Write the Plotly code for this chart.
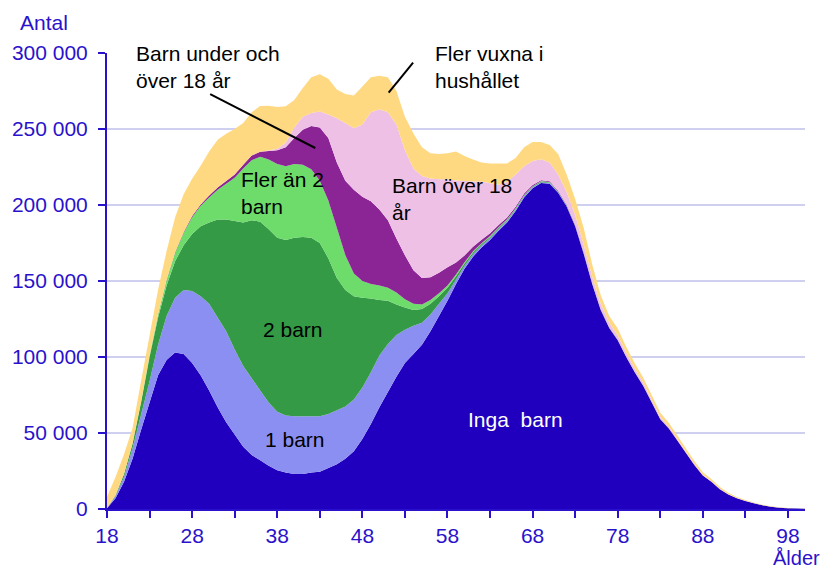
import plotly.graph_objects as go

ages = list(range(18, 101))

# Inga barn (no children)
inga_barn = [
    500, 7000, 18000, 33000, 52000, 70000, 88000, 98000, 103000, 102000,          # 18-27
    96000, 88000, 78000, 67000, 57000, 49000, 41000, 35500, 32000, 28500,         # 28-37
    25500, 24000, 23000, 23000, 24000, 24500, 27000, 29500, 33000, 38000,         # 38-47
    46000, 56000, 67000, 77000, 87000, 96000, 102000, 108000, 117000, 127000,     # 48-57
    137000, 148000, 158000, 166000, 172000, 177000, 183000, 188500, 196000, 205000,  # 58-67
    211000, 214500, 214000, 208000, 199000, 186000, 168000, 148000, 131000, 119000,  # 68-77
    111000, 100000, 90000, 81000, 70000, 59000, 53000, 45000, 37000, 29000,       # 78-87
    22000, 18000, 13000, 9500, 7000, 5200, 3800, 2400, 1500, 900,                 # 88-97
    500, 300, 200,                                                                # 98-100
]

ett_barn = [
    100, 1500, 3000, 7000, 10000, 14000, 20000, 29000, 36000, 42000,
    47500, 52000, 57000, 59000, 60000, 56000, 53000, 50500, 46000, 41500,
    38500, 37500, 38000, 38000, 37000, 36500, 35500, 35500, 34500, 34000,
    34000, 34000, 34000, 31500, 27500, 22000, 18500, 14500, 11000, 8000,
    5000, 3000, 2000, 1600, 1300, 1100, 1000, 900, 800, 700,
    600, 500, 450, 400, 350, 300, 250, 200, 170, 150,
    130, 110, 100, 90, 80, 70, 60, 50, 40, 35,
    30, 25, 20, 15, 10, 10, 5, 5, 5, 0,
    0, 0, 0,
]

tva_barn = [
    0, 500, 2000, 3000, 8000, 16000, 18000, 20000, 24000, 29500,
    37500, 46000, 53500, 64500, 73500, 84500, 94500, 104000, 111000, 114000,
    114500, 115500, 117500, 118000, 117500, 114000, 102500, 87000, 76500, 68000,
    59000, 48500, 36500, 28500, 20000, 14500, 10500, 9000, 7000, 5000,
    3500, 2200, 1500, 1200, 1000, 900, 800, 700, 600, 550,
    500, 450, 400, 350, 300, 250, 200, 170, 150, 130,
    110, 100, 90, 80, 70, 60, 50, 40, 35, 30,
    25, 20, 15, 10, 10, 5, 5, 5, 0, 0,
    0, 0, 0,
]

fler_an_2_barn = [
    0, 0, 100, 200, 500, 1000, 2000, 3500, 5500, 8000,
    11000, 13500, 16500, 19500, 23500, 28500, 35500, 39500, 42800, 46000,
    48500, 48500, 48500, 47500, 45000, 41000, 38000, 33000, 23000, 15000,
    11000, 9500, 9500, 8500, 8000, 5500, 4000, 3000, 2500, 2000,
    1500, 1000, 800, 700, 600, 550, 500, 450, 400, 350,
    300, 270, 240, 210, 180, 150, 120, 100, 90, 80,
    70, 60, 50, 45, 40, 35, 30, 25, 20, 15,
    12, 10, 8, 6, 5, 4, 3, 2, 1, 0,
    0, 0, 0,
]

barn_under_och_over_18 = [
    0, 0, 0, 50, 100, 150, 200, 300, 400, 500,
    700, 900, 1200, 1500, 1800, 2000, 2500, 3000, 3200, 5500,
    9000, 12500, 17000, 23000, 28500, 35000, 41000, 43000, 49000, 55000,
    55500, 54500, 50000, 44500, 35500, 29000, 22000, 17500, 15000, 13500,
    12000, 8000, 4500, 3000, 2200, 1800, 1500, 1300, 1100, 900,
    700, 600, 500, 450, 400, 350, 300, 250, 200, 180,
    160, 140, 120, 100, 90, 80, 70, 60, 50, 40,
    30, 25, 20, 15, 10, 8, 6, 4, 3, 2,
    1, 0, 0,
]

barn_over_18 = [
    0, 0, 0, 0, 0, 0, 0, 0, 0, 0,
    0, 0, 0, 0, 0, 0, 0, 0, 100, 300,
    1000, 3000, 7000, 8500, 8500, 10500, 15500, 29000, 38000, 40500,
    47500, 58500, 66000, 71000, 75000, 69000, 67000, 67000, 65000, 61500,
    58000, 54000, 49000, 43000, 38400, 33000, 26500, 23500, 21100, 18000,
    15900, 13700, 12400, 10600, 8300, 6450, 5100, 4200, 3500, 3000,
    2700, 2400, 2100, 1800, 1500, 1300, 1100, 900, 750, 600,
    500, 400, 300, 230, 170, 120, 90, 60, 40, 25,
    15, 10, 5,
]

fler_vuxna = [
    7400, 12000, 13000, 10000, 13500, 13000, 16000, 19000, 23000, 25000,
    24500, 25500, 29000, 31500, 31000, 30000, 27500, 28500, 30000, 29500,
    27500, 24000, 18000, 19000, 23500, 24500, 23500, 19000, 19000, 21500,
    25000, 23000, 22000, 23000, 22000, 22000, 23000, 19000, 16500, 16500,
    17000, 19000, 16500, 14500, 12500, 13000, 14000, 12000, 11000, 12500,
    12500, 11500, 11500, 13500, 11500, 10500, 11000, 8000, 5500, 4500,
    4500, 4000, 3500, 3200, 3000, 2800, 2500, 2200, 2000, 1800,
    1600, 1300, 1100, 900, 700, 550, 400, 300, 200, 150,
    100, 70, 50,
]

x_tick_vals = list(range(18, 101, 5))
x_tick_text = [str(v) if (v - 18) % 10 == 0 else "" for v in x_tick_vals]
y_tick_vals = [0, 50000, 100000, 150000, 200000, 250000, 300000]
y_tick_text = ["0", "50 000", "100 000", "150 000", "200 000", "250 000", "300 000"]

series = [
    ("Inga barn", inga_barn, "#2000BE"),
    ("1 barn", ett_barn, "#8C8FF2"),
    ("2 barn", tva_barn, "#349A46"),
    ("Fler än 2 barn", fler_an_2_barn, "#6EDC6A"),
    ("Barn under och över 18 år", barn_under_och_over_18, "#8B2596"),
    ("Barn över 18 år", barn_over_18, "#EEC0E6"),
    ("Fler vuxna i hushållet", fler_vuxna, "#FFD982"),
]

axis_col = "#2A12CC"
font_family = "Liberation Sans, Arial, sans-serif"

fig = go.Figure()
for name, vals, col in series:
    fig.add_trace(go.Scatter(
        x=ages, y=vals, name=name, stackgroup="one", mode="none",
        fillcolor=col, line=dict(width=0),
    ))

# The page body adds an 8px offset, so the figure is 8px smaller and margins are shifted.
fig.update_layout(
    width=825, height=564,
    margin=dict(l=99, r=28, t=45, b=63, autoexpand=False),
    plot_bgcolor="white", paper_bgcolor="white",
    showlegend=False,
    font=dict(family=font_family, size=21, color=axis_col),
)
fig.update_xaxes(
    range=[18, 100], tickmode="array", tickvals=x_tick_vals, ticktext=x_tick_text,
    ticks="outside", ticklen=7, tickwidth=2, tickcolor=axis_col,
    showline=True, linecolor=axis_col, linewidth=2,
    showgrid=False, zeroline=False,
    tickfont=dict(family=font_family, size=21, color=axis_col),
)
fig.update_yaxes(
    range=[0, 300000], tickmode="array", tickvals=y_tick_vals, ticktext=y_tick_text,
    ticks="outside", ticklen=7, tickwidth=2, tickcolor=axis_col,
    ticklabelstandoff=6,
    showline=True, linecolor=axis_col, linewidth=2,
    showgrid=True, gridcolor="#CFCFEF", gridwidth=2, zeroline=False,
    tickfont=dict(family=font_family, size=21, color=axis_col),
)

black = dict(family=font_family, size=21, color="black")
ann = [
    dict(x=21.18, y=291100, text="Barn under och<br>över 18 år", xanchor="left", yanchor="middle", align="left"),
    dict(x=56.24, y=291100, text="Fler vuxna i<br>hushållet", xanchor="left", yanchor="middle", align="left"),
    dict(x=33.45, y=208000, text="Fler än 2<br>barn", xanchor="left", yanchor="middle", align="left"),
    dict(x=51.29, y=203800, text="Barn över 18<br>år", xanchor="left", yanchor="middle", align="left"),
    dict(x=39.82, y=118200, text="2 barn", xanchor="center", yanchor="middle"),
    dict(x=40.12, y=45900, text="1 barn", xanchor="center", yanchor="middle"),
]
for a in ann:
    fig.add_annotation(xref="x", yref="y", showarrow=False, font=black, **a)
fig.add_annotation(xref="x", yref="y", x=66.0, y=59000, text="Inga\u00a0 barn", showarrow=False,
                   font=dict(family=font_family, size=21, color="white"), xanchor="center", yanchor="middle")
fig.add_annotation(xref="paper", yref="paper", x=-0.1275, y=1.0658, text="Antal", showarrow=False,
                   font=dict(family=font_family, size=21, color=axis_col), xanchor="left", yanchor="middle")
fig.add_annotation(xref="paper", yref="paper", x=1.024, y=-0.1365, text="Ålder", showarrow=False,
                   font=dict(family=font_family, size=20, color=axis_col), xanchor="right", yanchor="bottom")

fig.add_shape(type="line", xref="x", yref="y", x0=30.12, y0=273000, x1=42.47, y1=237500,
              line=dict(color="black", width=2))
fig.add_shape(type="line", xref="x", yref="y", x0=51.09, y0=273900, x1=53.96, y1=293600,
              line=dict(color="black", width=2))

fig.write_html("out.html")
